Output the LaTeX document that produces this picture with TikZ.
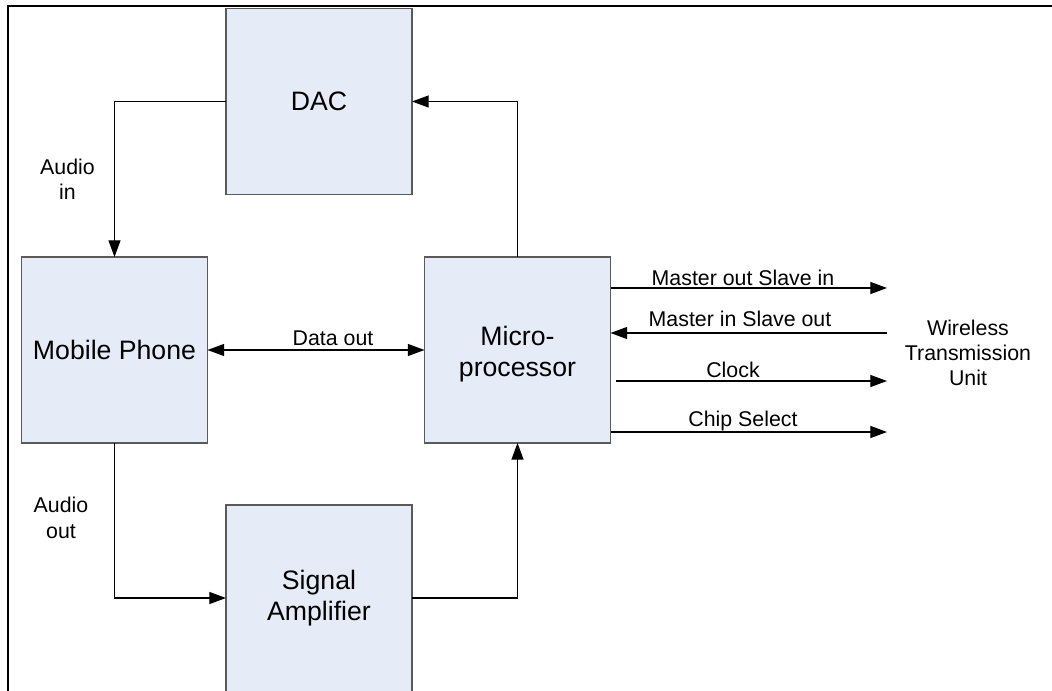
\documentclass[tikz,border=0pt]{standalone}
\usepackage{fontspec}
\setmainfont{Liberation Sans}
\usetikzlibrary{arrows.meta,calc}
\definecolor{boxfill}{HTML}{E6ECF7}
\definecolor{boxline}{HTML}{5A5A5A}
\begin{document}
\begin{tikzpicture}[x=0.75pt,y=-0.75pt,
  box/.style={draw=boxline,fill=boxfill,line width=1.3pt,minimum width=139.5pt,
    minimum height=139.5pt,inner sep=0pt,outer sep=0pt,align=center,
    font=\fontsize{20}{23}\selectfont},
  boxtext/.style={align=center,font=\fontsize{20}{23}\selectfont,inner sep=0pt},
  wire/.style={line width=0.9pt,-{Triangle[length=12.5pt,width=9pt]}},
  twoway/.style={line width=0.9pt,{Triangle[length=12.5pt,width=9pt]}-{Triangle[length=12.5pt,width=9pt]}},
  lbl/.style={font=\fontsize{16}{19}\selectfont,inner sep=0pt,anchor=base},
  mlbl/.style={font=\fontsize{16}{19}\selectfont,inner sep=0pt,align=center},
  frame/.style={line width=2.2pt}]
\useasboundingbox (0,0) rectangle (1052,691);

% outer frame
\draw[frame] (8,691) -- (8,6) -- (1052,6);

% blocks
\node[box] (dac) at (319,101.5) {DAC};
\node[box] (phone) at (114.5,350) {Mobile Phone};
\node[box] (micro) at (517.5,350) {};
\node[boxtext] (microtext) at (517.5,354) {Micro-\\processor};
\node[box,minimum height=160pt,anchor=north] (amp) at (319,505) {};
\node[boxtext] (amptext) at (319,598) {Signal\\Amplifier};

% audio path
\draw[wire] (dac.west) -| (phone.north);
\draw[wire] (micro.north) |- (dac.east);
\draw[twoway] (phone.east) -- (micro.west);
\draw[wire] (phone.south) |- (amp.west |- amptext);
\draw[wire] (amp.east |- amptext) -| (micro.south);

% SPI bus to the wireless unit
\coordinate (mosi) at (887,288);
\coordinate (miso) at (887,333);
\coordinate (clkstart) at (616,381);
\coordinate (clk) at (887,381);
\coordinate (cs) at (887,432);
\draw[wire] (micro.east |- mosi) -- (mosi);
\draw[wire] (miso) -- (micro.east |- miso);
\draw[wire] (clkstart) -- (clk);
\draw[wire] (micro.east |- cs) -- (cs);

% labels
\node[lbl] (lmosi) at (743,286) {Master out Slave in};
\node[lbl] (lmiso) at (740,327) {Master in Slave out};
\node[lbl] (lclk) at (733,378) {Clock};
\node[lbl] (lcs) at (743,426) {Chip Select};
\node[lbl] (ldata) at (333,345) {Data out};
\node[mlbl] (lain) at (67.5,179) {Audio\\in};
\node[mlbl] (laout) at (61,518) {Audio\\out};
\node[mlbl] (wtu) at (968,353) {Wireless\\Transmission\\Unit};
\end{tikzpicture}
\end{document}
